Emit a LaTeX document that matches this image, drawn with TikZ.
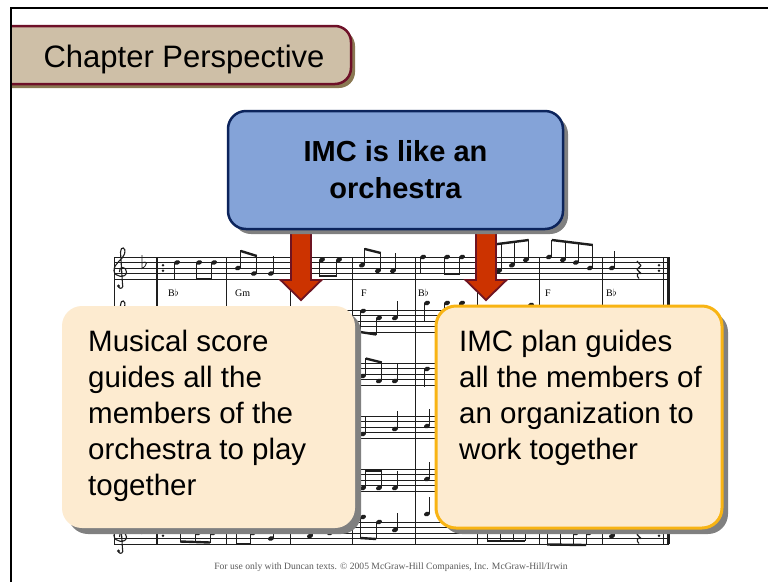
\documentclass[tikz,border=0pt]{standalone}
\usepackage{fontspec}
\setmainfont{Liberation Sans}
\newfontfamily\footerfont{Liberation Serif}
\usetikzlibrary{calc,shadows}

\definecolor{titlefill}{RGB}{206,191,167}
\definecolor{titleborder}{RGB}{110,16,40}
\definecolor{titleshadow}{RGB}{138,120,82}
\definecolor{bluefill}{RGB}{132,163,216}
\definecolor{blueborder}{RGB}{12,36,92}
\definecolor{arrowfill}{RGB}{204,51,0}
\definecolor{arrowborder}{RGB}{110,20,34}
\definecolor{creamfill}{RGB}{253,235,208}
\definecolor{goldborder}{RGB}{248,180,20}
\definecolor{shadowgray}{RGB}{128,128,128}
\definecolor{footergray}{RGB}{90,90,90}
\definecolor{inkgray}{RGB}{30,30,30}

\pgfdeclarelayer{paperlayer}
\pgfdeclarelayer{scorelayer}
\pgfdeclarelayer{arrowlayer}
\pgfsetlayers{paperlayer,scorelayer,arrowlayer,main}

% score glyphs: note head, note with stem up / down to a given end
\newcommand\sHead[2]{\fill[inkgray,rotate around={20:(#1,#2)}] (#1,#2) ellipse [x radius=3.1pt, y radius=2.2pt];}
\newcommand\sNup[3]{\sHead{#1}{#2}\draw[stemline] ({#1+2.8},#2) -- ({#1+2.8},#3);}
\newcommand\sNdn[3]{\sHead{#1}{#2}\draw[stemline] ({#1-2.8},#2) -- ({#1-2.8},#3);}
\newcommand\sRest{\draw[line width=1.1pt,inkgray,line join=round] (637,261) -- (641,265.5) -- (637,269.5) -- (641,273.5) .. controls (637,272) and (636,276) .. (639,278.5);}

\begin{document}
\begin{tikzpicture}[x=1pt,y=-1pt,
  staffline/.style={line width=0.6pt,inkgray},
  barline/.style={line width=0.6pt,inkgray},
  stemline/.style={line width=0.7pt,inkgray},
  beamline/.style={line width=2.4pt,inkgray},
  chord/.style={font=\footerfont\fontsize{10}{10}\selectfont,inner sep=0pt,anchor=base west},
  bluebox/.style={draw=blueborder,line width=2.5pt,fill=bluefill,rounded corners=18pt,
    minimum width=335pt,minimum height=118pt,align=center,
    font=\bfseries\fontsize{29}{37}\selectfont,
    drop shadow={shadow xshift=5pt,shadow yshift=-5pt,fill=shadowgray,opacity=1}},
  creambox/.style={fill=creamfill,rounded corners=20pt,minimum height=222pt,
    drop shadow={shadow xshift=6pt,shadow yshift=-6pt,fill=shadowgray,opacity=1}},
  boxtext/.style={font=\fontsize{29.5}{36.2}\selectfont,align=left,inner sep=0pt,anchor=north west},
  downarrow/.style={fill=arrowfill,draw=arrowborder,line width=1.8pt,line join=miter}]

\useasboundingbox (0,0) rectangle (768,582);
\begin{pgfonlayer}{paperlayer}
\fill[white] (0,0) rectangle (768,582);
\end{pgfonlayer}

% ---------------- musical score ----------------
\begin{pgfonlayer}{scorelayer}
\foreach \off in {0,53,...,265}{
  \begin{scope}[shift={(0,\off)}]
    \foreach \k in {0,...,4}
      \draw[staffline] (114,{257+5.5*\k}) -- (669,{257+5.5*\k});
    % treble clef
    \draw[line width=1.1pt,inkgray] (118.5,287) .. controls (120.5,290) and (124,287.5) .. (122.5,284)
      -- (120.5,252) .. controls (120.5,246) and (126.5,246.5) .. (124.5,254)
      .. controls (123,259.5) and (114,263) .. (114,270.5)
      .. controls (114,277.5) and (126.5,278.5) .. (126.5,272)
      .. controls (126.5,266) and (118.5,266) .. (119.5,272);
    \fill[inkgray] (118.5,286) circle (1.6pt);
    % key signature
    \draw[line width=0.8pt,inkgray] (142,255) -- (142,268.5) .. controls (148,265) and (147.5,260) .. (142,263);
    % repeat dots
    \fill[inkgray] (163,265.25) circle (1.3pt) (163,270.75) circle (1.3pt);
    \fill[inkgray] (659,265.25) circle (1.3pt) (659,270.75) circle (1.3pt);
  \end{scope}
}
% bar lines through the whole score
\foreach \bx in {114,226,290,352,415,477,539,602,663.5}
  \draw[barline] (\bx,257) -- (\bx,544);
\draw[line width=2.6pt,inkgray] (157,257) -- (157,544);
\draw[line width=3pt,inkgray] (668,257) -- (668,544);

% first system
\sNdn{177}{262.5}{280}
\sNdn{199}{262.5}{280} \sNdn{214}{262.5}{280}
\draw[beamline] (196.2,279) -- (211.2,279);
\sNup{238}{268}{250} \sNup{254}{273.5}{255}
\draw[beamline] (240.8,251) -- (256.8,256);
\sNup{271}{273.5}{256}
\sNdn{303}{262.5}{280}
\sNdn{322}{259.75}{277} \sNdn{339}{259.75}{277}
\draw[beamline] (319.2,276) -- (336.2,276);
\sNup{362}{265.25}{248} \sNup{378}{270.75}{252}
\draw[beamline] (364.8,249) -- (380.8,253);
\sNup{393}{270.75}{253}
\sNdn{423}{257}{274}
\sNdn{447}{257}{275} \sNdn{462}{257}{275}
\draw[beamline] (444.2,274) -- (459.2,274);
\sNup{487}{276.25}{245} \sNup{499}{270.75}{244} \sNup{512}{265.25}{242} \sNup{526}{259.75}{240}
\draw[beamline] (489.8,245) -- (528.8,240);
\sNup{549}{257}{240} \sNup{563}{259.75}{241} \sNup{576}{262.5}{243} \sNup{590}{268}{245}
\draw[beamline] (551.8,240) -- (592.8,245);
\sNup{612}{268}{251}
\sRest

\node[chord] (ch1) at (168,296) {B$\flat$};
\node[chord] (ch2) at (235,296) {Gm};
\node[chord] (ch3) at (361,296) {F};
\node[chord] (ch4) at (418,296) {B$\flat$};
\node[chord] (ch5) at (545,296) {F};
\node[chord] (ch6) at (606,296) {B$\flat$};

% second system
\sNdn{363}{311}{333} \sNdn{379}{318}{335}
\draw[beamline] (360.2,332) -- (376.2,334.5);
\sNup{395}{318}{301}
\sNdn{427}{303}{321} \sNdn{447}{303}{321} \sNdn{462}{303}{321} \sNdn{531}{305}{322}
% third system
\sNup{363}{376}{358} \sNup{379}{381}{362}
\draw[beamline] (365.8,358.5) -- (381.8,362.5);
\sNup{395}{381}{364}
\sNdn{427}{369}{387}
% fourth system
\sNup{363}{434}{416} \sNup{395}{429}{411} \sNup{427}{426}{409}
% fifth system
\sNup{363}{488}{470} \sNup{379}{488}{470}
\draw[beamline] (365.8,471) -- (381.8,471);
\sNup{395}{488}{471} \sNup{427}{479}{462}
% last system
\sNdn{183}{530}{541.5} \sNdn{198}{533}{542.5} \sNdn{213}{533}{542.5}
\draw[beamline] (180.2,541.5) -- (210.2,542.5);
\sNdn{239}{530}{544} \sNdn{253}{533}{544}
\draw[beamline] (236.2,544) -- (250.2,544);
\sNup{271}{538.5}{521}
\sNup{310}{536}{519} \sNup{330}{533}{516}
\sNdn{363}{517}{538} \sNdn{379}{522}{539}
\draw[beamline] (360.2,538) -- (376.2,539);
\sNup{395}{530}{513} \sNup{427}{514}{497}
\sNdn{490}{527.5}{541} \sNdn{503}{527.5}{541} \sNdn{516}{525}{541} \sNdn{528}{525}{541}
\draw[beamline] (487.2,541) -- (525.2,541);
\sNdn{550}{530}{544.5} \sNdn{563}{530}{544.5} \sNdn{576}{533}{545} \sNdn{589}{533}{545}
\draw[beamline] (547.2,544.5) -- (586.2,545);
\sNup{612}{536}{519}
\begin{scope}[shift={(0,265)}]\sRest\end{scope}
\end{pgfonlayer}

% ---------------- title tab ----------------
\begin{scope}
  \clip (12,0) rectangle (420,100);
  \fill[titleshadow,rounded corners=16pt] (-16,30) rectangle (355,88);
  \draw[titleborder,line width=2.5pt,fill=titlefill,rounded corners=16pt] (-20,26) rectangle (351,84);
\end{scope}
\node[anchor=base,font=\fontsize{31}{31}\selectfont] (title) at (184,67) {Chapter Perspective};

% frame
\draw[line width=2pt] (11,582) -- (11,8) -- (768,8);

% ---------------- boxes ----------------
\node[bluebox] (imc) at (395.5,170) {IMC is like an\\orchestra};

\node[creambox,minimum width=293pt] (scorebox) at (208.5,417) {};
\node[creambox,minimum width=286pt,draw=goldborder,line width=3pt] (planbox) at (579,417) {};

\node[boxtext] (scoretext) at (88,329.5) {Musical score\\guides all the\\members of the\\orchestra to play\\together};
\node[boxtext] (plantext) at (459,329.5) {IMC plan guides\\all the members of\\an organization to\\work together};

% arrows from the top box down to the two boxes
\coordinate (tipL) at (301,300);
\coordinate (tipR) at (486,300);
\begin{pgfonlayer}{arrowlayer}
\foreach \t in {tipL,tipR}
  \draw[downarrow] ($(imc.south -| \t)+(-10,-6)$) -- ($(\t)+(-10,-20)$) -- ($(\t)+(-20.5,-20)$)
    -- (\t) -- ($(\t)+(20.5,-20)$) -- ($(\t)+(10,-20)$) -- ($(imc.south -| \t)+(10,-6)$) -- cycle;
\end{pgfonlayer}

% footer
\node[anchor=base,font=\footerfont\fontsize{9.6}{10}\selectfont,text=footergray] (footer) at (391,569)
  {For use only with Duncan texts. © 2005 McGraw-Hill Companies, Inc. McGraw-Hill/Irwin};
\end{tikzpicture}
\end{document}
